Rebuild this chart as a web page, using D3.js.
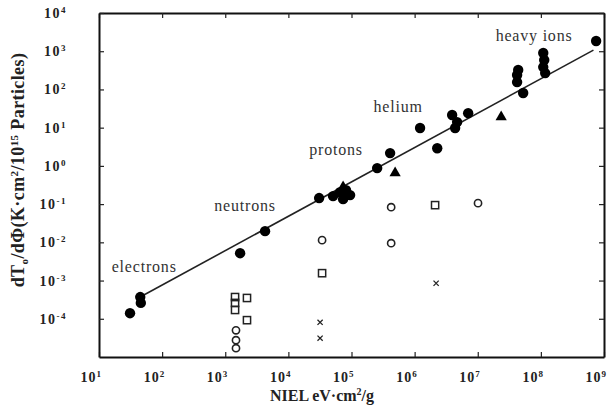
<!DOCTYPE html>
<html><head><meta charset="utf-8">
<script src="https://cdn.jsdelivr.net/npm/d3@7"></script>
<style>
html,body{margin:0;padding:0;background:#fff;}
svg{display:block;}
text{font-family:"Liberation Serif","Times New Roman",serif;fill:#222;}
</style></head>
<body>
<script>
// ---- data ----
const xDecades = [1e1,1e2,1e3,1e4,1e5,1e6,1e7,1e8,1e9];
const xTickExp = ["1","2","3","4","5","6","7","8","9"];
const yDecades = [1e-4,1e-3,1e-2,1e-1,1e0,1e1,1e2,1e3,1e4];
const yTickExp = ["-4","-3","-2","-1","0","1","2","3","4"];

// filled circles: fluence-damage measurements
const dotsNIEL = [31,45,46,1720,4270,30700,51000,65900,82000,95000,73600,255000,409000,1.22e6,2.28e6,3.93e6,4.71e6,4.38e6,7.05e6,4.2e7,4.2e7,4.37e7,5.24e7,1.09e8,1.13e8,1.09e8,1.17e8,7.5e8];
const dotsDT   = [1.4e-4,3.7e-4,2.6e-4,5.2e-3,0.0196,0.144,0.162,0.206,0.232,0.172,0.135,0.875,2.16,9.8,2.9,21.4,14,9.8,24,238,156,322,80.5,898,589,385,268,1850];
// filled triangles
const triNIEL = [73600,491000,2.35e7];
const triDT   = [0.279,0.65,18.9];
// open circles
const circNIEL = [34200,425000,425000,1.01e7,1480,1480,1480];
const circDT   = [0.0114,0.083,0.0095,0.106,5.0e-5,2.75e-5,1.7e-5];
// open squares
const sqNIEL = [1430,2210,1430,1430,2210,34200,2.11e6];
const sqDT   = [3.7e-4,3.5e-4,2.6e-4,1.7e-4,9.2e-5,1.56e-3,0.094];
// crosses
const xNIEL = [31800,31800,2.19e6];
const xDT   = [8.1e-5,3.1e-5,8.5e-4];
// fitted line end points
const fitNIEL = [42,6.8e8];
const fitDT   = [3.5e-4,1070];
// particle labels
const labelText = ["electrons","neutrons","protons","helium","heavy ions"];
const labelNIEL = [52,2060,57000,548000,7.8e7];
const labelDT   = [2.24e-3,0.089,2.6,34.6,2500];

const W=613,H=414;
const svg=d3.select("body").append("svg").attr("width",W).attr("height",H);
const x=d3.scaleLog().domain([1e1,1e9]).range([99,604]);
const y=d3.scaleLog().domain([1e-5,1e4]).range([357,13]);
const serif='"Liberation Serif","Times New Roman",serif';

function styleAxis(g){
  g.selectAll(".domain").attr("stroke","#111").attr("stroke-width",2);
  g.selectAll(".tick line").attr("stroke","#222").attr("stroke-width",1.2);
}
svg.append("g").attr("transform","translate(0,357)")
  .call(d3.axisBottom(x).tickValues(xDecades).tickSizeInner(-5).tickSizeOuter(0).tickFormat(""))
  .call(styleAxis);
svg.append("g").attr("transform","translate(0,13)")
  .call(d3.axisTop(x).tickValues(xDecades).tickSizeInner(-5).tickSizeOuter(0).tickFormat(""))
  .call(styleAxis);
svg.append("g").attr("transform","translate(99,0)")
  .call(d3.axisLeft(y).tickValues(yDecades).tickSizeInner(-5).tickSizeOuter(0).tickFormat(""))
  .call(styleAxis);
svg.append("g").attr("transform","translate(604,0)")
  .call(d3.axisRight(y).tickValues(yDecades).tickSizeInner(-5).tickSizeOuter(0).tickFormat(""))
  .call(styleAxis);

// tick labels
xDecades.forEach((v,i)=>{
  const t=svg.append("text").attr("x",x(v)+3).attr("y",382).attr("text-anchor","end")
    .style("font-family",serif).style("font-size","14px").style("font-weight","bold").style("letter-spacing","1px");
  t.append("tspan").text("10");
  t.append("tspan").attr("dy",-5).style("font-size","9px").text(xTickExp[i]);
});
yDecades.forEach((v,i)=>{
  const t=svg.append("text").attr("x",67).attr("y",y(v)+5).attr("text-anchor","end")
    .style("font-family",serif).style("font-size","14px").style("font-weight","bold").style("letter-spacing","1.5px");
  t.append("tspan").text("10");
  t.append("tspan").attr("dy",-5).style("font-size","9px").text(yTickExp[i]);
});

// axis titles
const xt=svg.append("text").attr("x",322).attr("y",401).attr("text-anchor","middle")
  .style("font-family",serif).style("font-size","16px").style("font-weight","bold");
xt.append("tspan").text("NIEL eV·cm");
xt.append("tspan").attr("dy",-6).style("font-size","10px").text("2");
xt.append("tspan").attr("dy",6).text("/g");

const yt=svg.append("text").attr("transform","translate(24,170) rotate(-90)").attr("text-anchor","middle")
  .style("font-family",serif).style("font-size","18px").style("font-weight","bold").style("letter-spacing","0.4px");
yt.append("tspan").text("dT");
yt.append("tspan").attr("dy",4).style("font-size","11px").text("o");
yt.append("tspan").attr("dy",-4).text("/dΦ(K·cm");
yt.append("tspan").attr("dy",-6).style("font-size","11px").text("2");
yt.append("tspan").attr("dy",6).text("/10");
yt.append("tspan").attr("dy",-6).style("font-size","11px").text("15");
yt.append("tspan").attr("dy",6).text(" Particles)");

// fit line
const fit=fitNIEL.map((v,i)=>[v,fitDT[i]]);
svg.append("path").datum(fit)
  .attr("d",d3.line().x(d=>x(d[0])).y(d=>y(d[1])))
  .attr("stroke","#222").attr("stroke-width",1.6).attr("fill","none");

// open circles
svg.append("g").selectAll("circle").data(circNIEL.map((v,i)=>[v,circDT[i]])).join("circle")
  .attr("cx",d=>x(d[0])).attr("cy",d=>y(d[1])).attr("r",3.6)
  .attr("fill","none").attr("stroke","#222").attr("stroke-width",1.6);
// open squares
svg.append("g").selectAll("rect").data(sqNIEL.map((v,i)=>[v,sqDT[i]])).join("rect")
  .attr("x",d=>x(d[0])-3.6).attr("y",d=>y(d[1])-3.6).attr("width",7.2).attr("height",7.2)
  .attr("fill","none").attr("stroke","#222").attr("stroke-width",1.5);
// crosses
svg.append("g").selectAll("path").data(xNIEL.map((v,i)=>[v,xDT[i]])).join("path")
  .attr("d",d=>{const cx=x(d[0]),cy=y(d[1]),s=2.6;return `M${cx-s},${cy-s}L${cx+s},${cy+s}M${cx+s},${cy-s}L${cx-s},${cy+s}`;})
  .attr("stroke","#222").attr("stroke-width",1.3).attr("fill","none");
// filled dots
svg.append("g").selectAll("circle").data(dotsNIEL.map((v,i)=>[v,dotsDT[i]])).join("circle")
  .attr("cx",d=>x(d[0])).attr("cy",d=>y(d[1])).attr("r",5.2).attr("fill","#000");
// triangles
svg.append("g").selectAll("path").data(triNIEL.map((v,i)=>[v,triDT[i]])).join("path")
  .attr("transform",d=>`translate(${x(d[0])},${y(d[1])})`)
  .attr("d",d3.symbol().type(d3.symbolTriangle).size(55)).attr("fill","#000");

// particle labels
svg.append("g").selectAll("text").data(labelText).join("text")
  .attr("x",(d,i)=>x(labelNIEL[i])).attr("y",(d,i)=>y(labelDT[i])+5)
  .attr("text-anchor","middle")
  .style("font-family",serif).style("font-size","16px").style("letter-spacing","0.8px")
  .style("fill","#333").text(d=>d);
</script>
</body></html>
